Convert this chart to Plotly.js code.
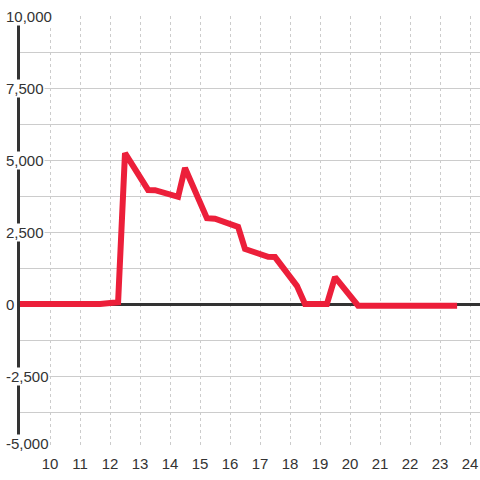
<!DOCTYPE html>
<html>
<head>
<meta charset="utf-8">
<script src="https://cdn.plot.ly/plotly-3.0.1.min.js"></script>
<style>html,body{margin:0;padding:0;background:#fff;}#chart{width:480px;height:480px;}</style>
</head>
<body>
<div id="chart"></div>
<script>
// Hour of day (x) and value (y)
var hours  = [9, 11.67, 12.27, 12.5, 13.27, 13.5, 14.27, 14.5, 15.23, 15.5, 16.27, 16.5, 17.27, 17.5, 18.23, 18.5, 19.23, 19.5, 20.27, 23.57];
var values = [0, 0, 60, 5240, 3960, 3950, 3720, 4720, 2980, 2960, 2680, 1910, 1640, 1630, 630, 0, 0, 930, -60, -60];

var xTickVals = [10, 11, 12, 13, 14, 15, 16, 17, 18, 19, 20, 21, 22, 23, 24];
var xTickText = ['10', '11', '12', '13', '14', '15', '16', '17', '18', '19', '20', '21', '22', '23', '24'];
var yTickVals = [10000, 7500, 5000, 2500, 0, -2500, -5000];
var yTickText = ['10,000', '7,500', '5,000', '2,500', '0', '-2,500', '-5,000'];

var annotations = yTickVals.map(function (v, i) {
  return {
    xref: 'paper', yref: 'y',
    x: -15 / 460, y: v,
    xanchor: 'left', yanchor: 'middle',
    yshift: (i === yTickVals.length - 1) ? 5 : 0,
    text: yTickText[i],
    showarrow: false,
    bgcolor: '#ffffff',
    borderpad: 0,
    font: {family: 'Liberation Sans, Arial, sans-serif', size: 15, color: '#333333'}
  };
});

var trace = {
  x: hours, y: values,
  type: 'scatter', mode: 'lines',
  line: {color: '#ec1f3a', width: 6},
  hoverinfo: 'skip'
};

var layout = {
  width: 480, height: 480,
  margin: {l: 20, r: 0, t: 16, b: 32, pad: 0},
  paper_bgcolor: '#ffffff', plot_bgcolor: '#ffffff',
  showlegend: false,
  xaxis: {
    range: [9, 24.3333],
    tickvals: xTickVals, ticktext: xTickText,
    showgrid: true, gridcolor: '#cccccc', gridwidth: 1, griddash: '3px,3px',
    zeroline: false, showline: false, ticks: '',
    ticklabelstandoff: 5,
    tickfont: {family: 'Liberation Sans, Arial, sans-serif', size: 15, color: '#333333'},
    fixedrange: true
  },
  yaxis: {
    range: [-5000, 10000],
    tick0: 0, dtick: 1250,
    showticklabels: false, ticks: '',
    showgrid: true, gridcolor: '#cccccc', gridwidth: 1,
    zeroline: true, zerolinecolor: '#333333', zerolinewidth: 3,
    showline: true, linecolor: '#333333', linewidth: 3,
    fixedrange: true
  },
  annotations: annotations
};

Plotly.newPlot('chart', [trace], layout, {displayModeBar: false, staticPlot: true});
</script>
</body>
</html>
